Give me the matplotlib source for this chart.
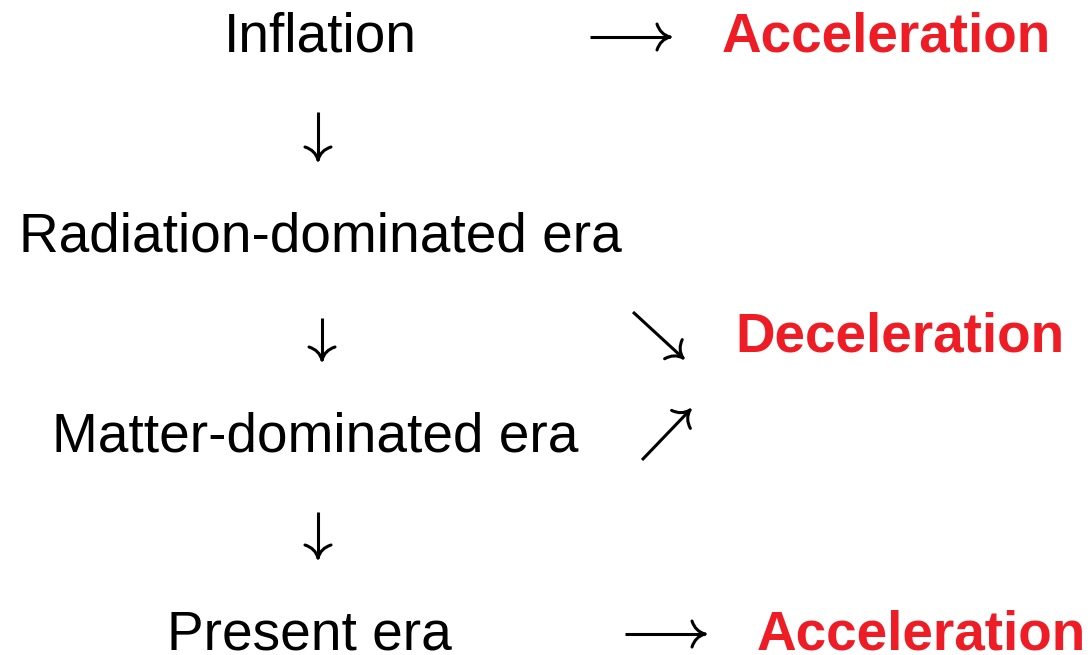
import matplotlib
matplotlib.use("Agg")
import matplotlib.pyplot as plt
from matplotlib.path import Path
from matplotlib.patches import PathPatch
import numpy as np

# Diagram content
stages = ["Inflation", "Radiation-dominated era", "Matter-dominated era", "Present era"]
stage_x = [320, 320, 315, 309]          # centre x (px)
stage_base = [52, 252, 452, 650]        # baseline y (px)
labels = ["Acceleration", "Deceleration", "Acceleration"]
label_x = [722, 735, 757]
label_base = [52, 351, 650]
# arrows: (x0, y0, x1, y1)
arrows = [
    (590, 37, 670, 37),
    (318, 112, 318, 160),
    (322, 318, 322, 360),
    (318, 512, 318, 558),
    (633, 312, 683, 358),
    (642, 460, 690, 410),
    (625, 634, 705, 634),
]

W, H = 1091, 655
fig = plt.figure(figsize=(W / 100, H / 100), dpi=100)
ax = fig.add_axes([0, 0, 1, 1])
ax.set_xlim(0, W)
ax.set_ylim(H, 0)
ax.axis("off")

FONT = "Liberation Sans"
for s, x, y in zip(stages, stage_x, stage_base):
    ax.text(x, y, s, ha="center", va="baseline", fontsize=39.6, family=FONT, color="black")
for s, x, y in zip(labels, label_x, label_base):
    ax.text(x, y, s, ha="left", va="baseline", fontsize=39.5, family=FONT,
            fontweight="bold", color="#ee1c25")


def draw_arrow(x0, y0, x1, y1, L=13, w=13, lw=2.2):
    ax.plot([x0, x1], [y0, y1], color="black", lw=lw, solid_capstyle="butt")
    d = np.array([x1 - x0, y1 - y0], float)
    d /= np.linalg.norm(d)
    n = np.array([-d[1], d[0]])
    tip = np.array([x1, y1], float)
    for sgn in (1, -1):
        ctrl = tip - d * L * 0.75 + sgn * n * w * 0.2
        end = tip - d * L + sgn * n * w
        p = Path([tip, ctrl, end], [Path.MOVETO, Path.CURVE3, Path.CURVE3])
        ax.add_patch(PathPatch(p, fill=False, lw=lw, edgecolor="black", capstyle="round"))


for a in arrows:
    draw_arrow(*a)

fig.savefig("out.png", dpi=100)
